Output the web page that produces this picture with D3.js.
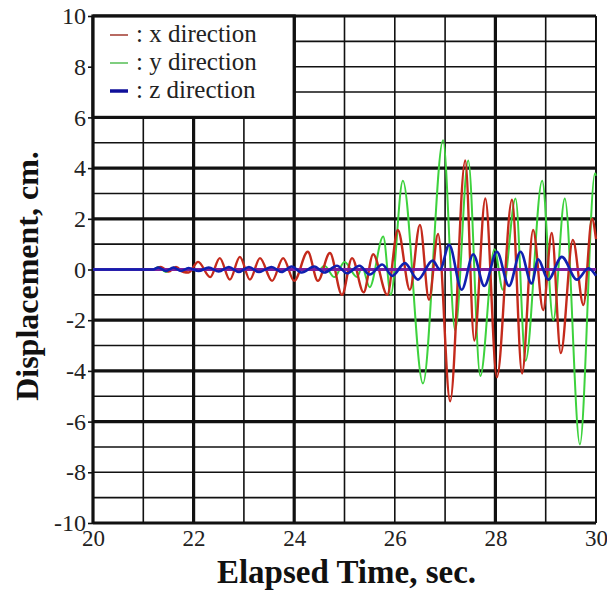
<!DOCTYPE html>
<html>
<head>
<meta charset="utf-8">
<script src="https://cdn.jsdelivr.net/npm/d3@7"></script>
<style>
  body { margin: 0; background: #fff; }
  text { font-family: "Liberation Serif", "Times New Roman", serif; }
</style>
</head>
<body>
<svg id="chart"></svg>
<script>
// tick labels
const xTicks = [20, 22, 24, 26, 28, 30];
const yTicks = [10, 8, 6, 4, 2, 0, -2, -4, -6, -8, -10];
const legendLabels = [': x direction', ': y direction', ': z direction'];

// x direction (extrema)
const xDirTime = [20, 21.2, 21.35, 21.5, 21.65, 21.8, 21.9, 22.09, 22.33, 22.52, 22.72, 22.92, 23.12, 23.32, 23.56, 23.78,
  24.0, 24.27, 24.47, 24.71, 24.95, 25.15, 25.38, 25.57, 25.85, 26.06, 26.3, 26.5, 26.68, 26.86, 27.1, 27.4,
  27.58, 27.8, 28.03, 28.33, 28.53, 28.75, 28.95, 29.12, 29.3, 29.54, 29.75, 29.92, 30];
const xDirDisp = [0, 0, 0.1, -0.08, 0.1, -0.1, -0.12, 0.3, -0.3, 0.45, -0.4, 0.5, -0.4, 0.45, -0.45, 0.45,
  -0.45, 0.7, -0.45, 0.65, -1.0, 0.45, -0.9, 0.6, -1.0, 1.56, -0.8, 1.76, -1.2, 1.4, -5.2, 4.3,
  -2.8, 2.8, -4.25, 2.75, -4.1, 1.56, -1.6, 1.44, -3.3, 1.17, -1.4, 2.0, 1.2];

// y direction
const yDirTime = [20, 21.2, 21.3, 21.45, 21.6, 21.75, 21.9, 24.5, 24.6, 24.8, 25.0, 25.25, 25.35, 25.5, 25.77, 25.92,
  26.16, 26.56, 26.96, 27.2, 27.46, 27.7, 27.98, 28.15, 28.4, 28.6, 28.93, 29.15, 29.38, 29.68, 29.98, 30];
const yDirDisp = [0, 0, 0.1, -0.1, 0.08, -0.05, 0, 0, 0.15, -0.3, 0.3, -0.3, 0.1, -0.7, 1.3, -1.0,
  3.5, -4.5, 5.1, -2.4, 4.3, -4.2, 0.8, -0.8, 2.8, -3.6, 3.5, -2.0, 2.8, -6.9, 3.8, 3.7];

// z direction
const zDirTime = [20, 21.2, 21.3, 21.45, 21.6, 21.75, 21.9, 22.1, 22.3, 22.5, 22.7, 22.9, 23.1, 23.3, 23.55, 23.75,
  23.95, 24.15, 24.4, 24.6, 24.85, 25.05, 25.3, 25.5, 25.75, 25.95, 26.2, 26.46, 26.75, 26.9, 27.08, 27.33,
  27.56, 27.78, 28.03, 28.27, 28.5, 28.72, 28.85, 29.05, 29.32, 29.62, 29.85, 30];
const zDirDisp = [0, 0, 0.08, -0.06, 0.08, -0.06, 0.06, -0.06, 0.08, -0.08, 0.1, -0.1, 0.1, -0.1, 0.1, -0.1,
  0.12, -0.12, 0.12, -0.12, 0.15, -0.15, 0.15, -0.2, 0.2, -0.25, 0.25, -0.4, 0.35, 0.0, 0.97, -0.8,
  0.6, -0.65, 0.7, -0.65, 0.7, -0.55, 0.4, -0.4, 0.5, -0.4, 0.05, -0.25];

const W = 607, H = 593;
const margin = { top: 16, right: 11, bottom: 70, left: 93 };
const serif = '"Liberation Serif", "Times New Roman", serif';

const svg = d3.select('#chart').attr('width', W).attr('height', H);

const x = d3.scaleLinear().domain([20, 30]).range([margin.left, W - margin.right]);
const y = d3.scaleLinear().domain([-10, 10]).range([H - margin.bottom, margin.top]);

const ink = '#111';

// grid - every second / every cm
const thickX = [22, 24, 28];
svg.append('g').selectAll('line')
  .data(d3.range(21, 30))
  .join('line')
  .attr('x1', d => x(d)).attr('x2', d => x(d))
  .attr('y1', y(10)).attr('y2', y(-10))
  .attr('stroke', ink)
  .attr('stroke-width', d => thickX.includes(d) ? 3.2 : 1.6);

svg.append('g').selectAll('line')
  .data(d3.range(-9, 10))
  .join('line')
  .attr('x1', x(20)).attr('x2', x(30))
  .attr('y1', d => y(d)).attr('y2', d => y(d))
  .attr('stroke', ink)
  .attr('stroke-width', d => (d !== 0 && Math.abs(d) <= 6 && d % 2 === 0) ? 3.2 : 1.6);

// frame
svg.append('line').attr('x1', x(20)).attr('x2', x(30)).attr('y1', y(10)).attr('y2', y(10)).attr('stroke', ink).attr('stroke-width', 3.2);
svg.append('line').attr('x1', x(20)).attr('x2', x(30)).attr('y1', y(-10)).attr('y2', y(-10)).attr('stroke', ink).attr('stroke-width', 3.2);
svg.append('line').attr('x1', x(20)).attr('x2', x(20)).attr('y1', y(10)).attr('y2', y(-10)).attr('stroke', ink).attr('stroke-width', 3.2);
svg.append('line').attr('x1', x(30)).attr('x2', x(30)).attr('y1', y(10)).attr('y2', y(-10)).attr('stroke', ink).attr('stroke-width', 2);

// y axis ticks + labels
const yAxis = d3.axisLeft(y).tickValues(yTicks).tickSize(5).tickPadding(2).tickFormat(d => String(d));
const gy = svg.append('g').attr('transform', `translate(${margin.left},0)`).call(yAxis);
gy.attr('font-family', null);
gy.select('.domain').remove();
gy.selectAll('line').attr('stroke', ink).attr('stroke-width', 1.6);
gy.selectAll('text').attr('font-size', 24).attr('fill', '#222').style('font-family', serif);

// x axis labels
const xAxis = d3.axisBottom(x).tickValues(xTicks).tickSize(0).tickPadding(7).tickFormat(d => String(d));
const gx = svg.append('g').attr('transform', `translate(0,${H - margin.bottom})`).call(xAxis);
gx.attr('font-family', null);
gx.select('.domain').remove();
gx.selectAll('text').attr('font-size', 23).attr('fill', '#222').style('font-family', serif);

// data lines
const toPts = (t, v) => t.map((d, i) => [d, v[i]]);
const line = d3.line().x(d => x(d[0])).y(d => y(d[1])).curve(d3.curveMonotoneX);

svg.append('path').datum(toPts(yDirTime, yDirDisp))
  .attr('d', line).attr('fill', 'none').attr('stroke', '#3dd23d').attr('stroke-width', 2);
svg.append('path').datum(toPts(xDirTime, xDirDisp))
  .attr('d', line).attr('fill', 'none').attr('stroke', '#c42a1c').attr('stroke-width', 2.4);
// zero line
svg.append('line').attr('x1', x(20)).attr('x2', x(30)).attr('y1', y(0)).attr('y2', y(0))
  .attr('stroke', '#7a1f9e').attr('stroke-width', 3);
svg.append('path').datum(toPts(zDirTime, zDirDisp))
  .attr('d', line).attr('fill', 'none').attr('stroke', '#1020b0').attr('stroke-width', 2.6);

// legend box
svg.append('rect')
  .attr('x', x(20)).attr('y', y(10))
  .attr('width', x(24) - x(20)).attr('height', y(6) - y(10))
  .attr('fill', '#fff').attr('stroke', ink).attr('stroke-width', 3.2);

const legendColors = ['#b86a62', '#7fce7f', '#10109a'];
const legendWidths = [2, 2, 3.5];
const lg = svg.append('g').selectAll('g')
  .data(legendLabels)
  .join('g')
  .attr('transform', (d, i) => `translate(110, ${35 + i * 28})`);
lg.append('line').attr('x1', 0).attr('x2', 18).attr('y1', 0).attr('y2', 0)
  .attr('stroke', (d, i) => legendColors[i]).attr('stroke-width', (d, i) => legendWidths[i]);
lg.append('text').attr('x', 26).attr('y', 7).attr('font-size', 25).attr('fill', '#222')
  .style('font-family', serif).text(d => d);

// titles
svg.append('text')
  .attr('x', (x(20) + x(30)) / 2 + 2).attr('y', 583)
  .attr('text-anchor', 'middle').attr('font-size', 33).attr('font-weight', 'bold').attr('fill', '#111')
  .style('font-family', serif)
  .text('Elapsed Time, sec.');

svg.append('text')
  .attr('transform', `translate(38, 276) rotate(-90)`)
  .attr('text-anchor', 'middle').attr('font-size', 32).attr('font-weight', 'bold').attr('fill', '#111')
  .style('font-family', serif)
  .text('Displacement, cm.');
</script>
</body>
</html>
